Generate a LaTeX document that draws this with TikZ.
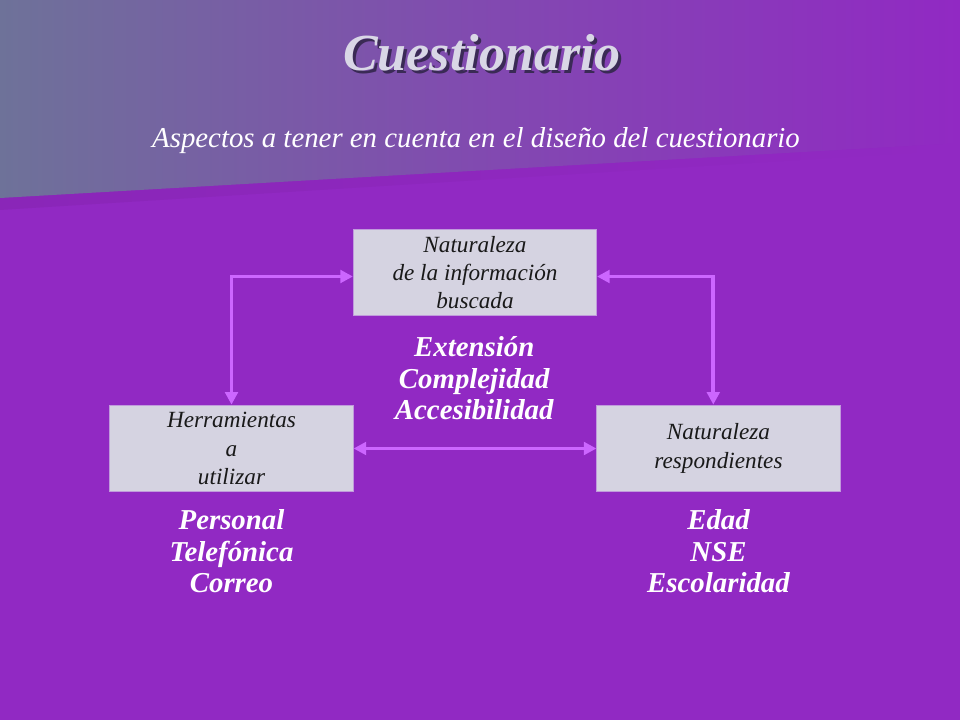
\documentclass[tikz,border=0pt]{standalone}
\usepackage{fontspec}
\setmainfont{Liberation Serif}
\usetikzlibrary{arrows.meta}
\usetikzlibrary{positioning}
\definecolor{bgPurple}{HTML}{9129C3}
\definecolor{bandGray}{HTML}{6E7299}
\definecolor{bandDark}{HTML}{8A26B8}
\definecolor{arrowLilac}{HTML}{CC66FF}
\definecolor{boxFill}{HTML}{D5D3E1}
\definecolor{boxLine}{HTML}{C09ADC}
\definecolor{titleGray}{HTML}{D9D7E6}
\definecolor{shadowDark}{HTML}{3A2A55}
\tikzset{
  infobox/.style={draw=boxLine, line width=0.6pt, fill=boxFill, minimum width=6.08cm,
    minimum height=2.17cm, align=center, text=black!90, inner sep=1pt,
    font=\fontsize{16.5}{20.2}\itshape\selectfont},
  listtext/.style={align=center, text=white,
    font=\fontsize{20.5}{22.4}\bfseries\itshape\selectfont},
  conn/.style={draw=arrowLilac, line width=2.8pt, <->, >={Triangle[length=9pt,width=9pt]}}
}
\begin{document}
\begin{tikzpicture}[x=0.025cm, y=-0.025cm]
        \useasboundingbox (0,0) rectangle (960,720);
        % background
        \fill[bgPurple] (0,0) rectangle (960,720);
        \shade[left color=bandDark, right color=bgPurple] (0,0) -- (960,0) -- (960,150) -- (0,210) -- cycle;
        \shade[left color=bandGray, right color=bgPurple, middle color=bandGray!45!bgPurple]
            (0,0) -- (960,0) -- (960,143) -- (0,198) -- cycle;

        % titles
        \node[text=shadowDark, font=\fontsize{37}{42}\bfseries\itshape\selectfont] (TitleShadow) at (485,56) {Cuestionario};
        \node[text=titleGray, font=\fontsize{37}{42}\bfseries\itshape\selectfont] (Title) at (482,53) {Cuestionario};
        \node[text=white, font=\fontsize{20.5}{24}\itshape\selectfont] (Subtitle) at (476,141)
            {Aspectos a tener en cuenta en el diseño del cuestionario};

        % boxes
        \node[infobox] (InfoBox) at (475,272.5) {Naturaleza\\de la información\\buscada};
        \node[infobox] (ToolBox) at (231.5,448.5) {Herramientas\\a\\utilizar};
        \node[infobox] (RespBox) at (718.5,448.5) {Naturaleza\\respondientes};

        % lists
        \node[listtext, below=0.38cm of InfoBox, xshift=-0.02cm] (InfoList) {Extensión\\Complejidad\\Accesibilidad};
        \node[listtext, below=0.31cm of ToolBox] (ToolList) {Personal\\Telefónica\\Correo};
        \node[listtext, below=0.31cm of RespBox] (RespList) {Edad\\NSE\\Escolaridad};

        % arrows
        \draw[conn] ([yshift=-0.1cm]InfoBox.west) -| (ToolBox.north);
        \draw[conn] ([yshift=-0.1cm]InfoBox.east) -| ([xshift=-0.13cm]RespBox.north);
        \draw[conn] (ToolBox.east) -- (RespBox.west);
\end{tikzpicture}
\end{document}
